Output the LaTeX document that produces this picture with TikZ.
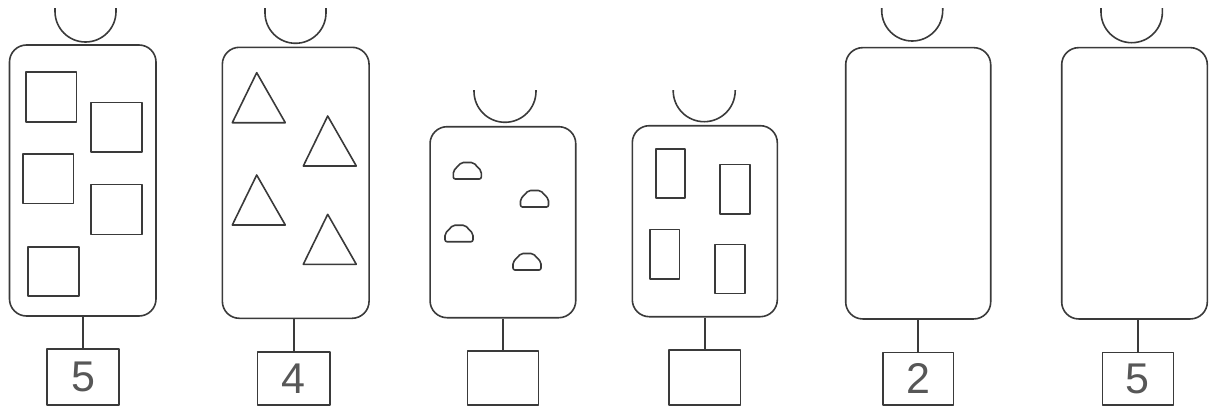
\documentclass[tikz,border=0pt]{standalone}
\usepackage{fontspec}
\setmainfont{Liberation Sans}
\definecolor{ink}{HTML}{3A3A3A}
\tikzset{
  shp/.style={draw=ink, line width=1.6pt, line join=round},
  body/.style={shp, rounded corners=17pt, inner sep=0pt},
  lbl/.style={shp, inner sep=0pt, text=ink!85, font=\fontsize{43}{43}\selectfont},
  wire/.style={draw=ink, line width=1.6pt},
}
\newcommand\headarc[4]{% cx, r, top y, bottom y
  \draw[shp] (#1-#2,#3) -- (#1-#2,#4-#2) arc[start angle=180, end angle=360, radius=#2pt] -- (#1+#2,#3);}
\newcommand\sq[4]{\draw[shp] (#1,#2) rectangle (#3,#4);}
\newcommand\tri[3]{% left x, base y, apex x
  \draw[shp] (#1,#2) -- (#3,#2-50) -- (#1+53,#2) -- cycle;}
\newcommand\dome[2]{\draw[shp, rounded corners=2pt] (#1,#2) -- ++(0,-8) -- ++(8,-8.5) -- ++(12,0) -- ++(8,8.5) -- ++(0,8) -- cycle;}
\begin{document}
\begin{tikzpicture}[x=1pt, y=-1pt]
\useasboundingbox (0,0) rectangle (1213,407);
% Panel 1
\headarc{85.5}{30.5}{8}{42}
\node[body, minimum width=146.5pt, minimum height=271pt] (b1) at (82.75,180.5) {};
\node[lbl, minimum width=72pt, minimum height=56pt] (l1) at (83,377) {5};
\draw[wire] (l1.north) -- (l1.north |- b1.south);
\sq{25.7}{71.7}{76.3}{121.7}
\sq{91}{102.3}{141.7}{151.7}
\sq{22.7}{154}{73.3}{203.3}
\sq{90.7}{184.3}{141.7}{234.3}
\sq{27.7}{246.7}{78.7}{296}
% Panel 2
\headarc{295.5}{30.5}{8}{43.3}
\node[body, minimum width=146.7pt, minimum height=271pt] (b2) at (295.7,182.8) {};
\node[lbl, minimum width=72.3pt, minimum height=53pt] (l2) at (293.8,378.5) {4};
\draw[wire] (l2.north) -- (l2.north |- b2.south);
\tri{232.3}{122.7}{256.7}
\tri{303.3}{166}{327.7}
\tri{232.3}{225}{256.7}
\tri{303.3}{264.3}{327.7}
% Panel 3
\headarc{505}{31}{90}{122.3}
\node[body, minimum width=145.7pt, minimum height=191pt] (b3) at (502.9,222.2) {};
\node[lbl, minimum width=71pt, minimum height=54pt] (l3) at (502.8,378) {};
\draw[wire] (l3.north) -- (l3.north |- b3.south);
\dome{453.3}{179}
\dome{520.5}{207}
\dome{445}{241.7}
\dome{513}{270}
% Panel 4
\headarc{704.2}{31}{90}{121.7}
\node[body, minimum width=145pt, minimum height=191pt] (b4) at (704.8,221.2) {};
\node[lbl, minimum width=71.7pt, minimum height=55pt] (l4) at (704.8,377.5) {};
\draw[wire] (l4.north) -- (l4.north |- b4.south);
\sq{655.7}{149}{685}{197.7}
\sq{720}{164.3}{750}{214}
\sq{650}{229.3}{679.3}{279}
\sq{715}{244.3}{745}{293.3}
% Panel 5
\headarc{912.2}{30.5}{8}{41}
\node[body, minimum width=145pt, minimum height=271.3pt] (b5) at (918.2,183.3) {};
\node[lbl, minimum width=70.6pt, minimum height=52.3pt] (l5) at (918,378.8) {2};
\draw[wire] (l5.north) -- (l5.north |- b5.south);
% Panel 6
\headarc{1131.7}{30.7}{8}{42.7}
\node[body, minimum width=145.6pt, minimum height=271.3pt] (b6) at (1134.5,183.3) {};
\node[lbl, minimum width=71pt, minimum height=52.3pt] (l6) at (1137.8,378.8) {5};
\draw[wire] (l6.north) -- (l6.north |- b6.south);
\end{tikzpicture}
\end{document}
